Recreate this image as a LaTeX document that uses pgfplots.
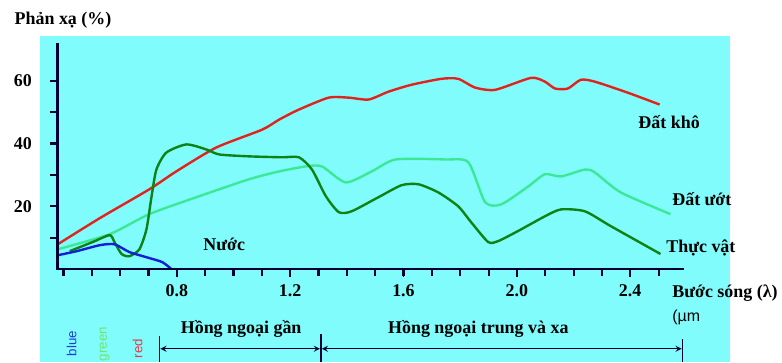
\documentclass[border=0pt]{standalone}
\usepackage{fontspec}
\setmainfont{Liberation Serif}
\setsansfont{Liberation Sans}
\usepackage{pgfplots}
\pgfplotsset{compat=1.18}
\definecolor{bgcyan}{RGB}{128,252,252}
\definecolor{dryred}{RGB}{225,35,30}
\definecolor{wetgreen}{RGB}{60,232,150}
\definecolor{vegreen}{RGB}{15,130,20}
\definecolor{waterblue}{RGB}{20,30,215}
\definecolor{darknavy}{RGB}{0,0,50}
\definecolor{wblue}{RGB}{30,60,220}
\definecolor{wgreen}{RGB}{110,230,110}
\definecolor{wred}{RGB}{230,60,80}
\newcommand{\lf}{\fontsize{13.5}{16}\selectfont\bfseries}
\begin{document}
\begin{tikzpicture}
\fill[bgcyan] (30pt,0pt) rectangle (549.75pt,245.25pt);
\begin{axis}[
  at={(43.5pt,69.75pt)}, anchor=south west,
  scale only axis, width=470.25pt, height=170.25pt,
  xmin=0.38, xmax=2.585, ymin=0, ymax=72.06,
  axis lines=left,
  axis line style={-, draw=darknavy, line width=1.5pt},
  xtick={0.8,1.2,1.6,2.0,2.4},
  xticklabels={0.8,1.2,1.6,2.0,2.4},
  minor xtick={0.4,0.5,0.6,0.7,0.9,1.0,1.1,1.3,1.4,1.5,1.7,1.8,1.9,2.1,2.2,2.3,2.5},
  ytick={20,40,60}, yticklabels={20,40,60},
  minor ytick={10,30,50},
  tick align=outside,
  major tick length=6pt, minor tick length=5pt,
  tick style={draw=darknavy, line width=1.2pt},
  ticklabel style={font=\lf, text=black},
  xticklabel style={yshift=-2pt},
  yticklabel style={xshift=-10pt},
  clip=false,
]
\addplot[dryred, line width=1.8pt, smooth, tension=0.4] coordinates {
(0.38,7.9) (0.528,16.2) (0.703,25.4) (0.798,31.1) (0.939,38.7) (1.101,44.4)
(1.161,47.6) (1.231,50.8) (1.336,54.6) (1.407,54.6) (1.477,54.0) (1.547,56.5)
(1.628,58.7) (1.734,60.6) (1.793,60.6) (1.853,57.8) (1.924,57.1) (2.050,60.9)
(2.099,59.7) (2.135,57.5) (2.180,57.5) (2.226,60.3) (2.275,59.7) (2.391,56.2)
(2.504,52.4)};
\addplot[wetgreen, line width=1.8pt, smooth, tension=0.4] coordinates {
(0.38,6.3) (0.563,11.1) (0.703,17.5) (0.879,23.2) (1.055,28.6) (1.161,31.1)
(1.256,32.7) (1.312,32.7) (1.396,27.6) (1.488,31.1) (1.572,34.9) (1.748,34.9)
(1.829,34.0) (1.888,21.3) (1.945,20.6) (2.040,26.3) (2.099,30.2) (2.156,29.5)
(2.240,31.7) (2.275,30.8) (2.367,24.4) (2.542,17.5)};
\addplot[vegreen, line width=1.8pt, smooth, tension=0.4] coordinates {
(0.422,5.7) (0.503,8.6) (0.563,10.8) (0.580,8.6) (0.605,4.8) (0.633,4.1)
(0.668,6.3) (0.693,12.7) (0.711,23.2) (0.728,31.7) (0.763,37.1) (0.834,39.7)
(0.904,38.1) (0.950,36.5) (1.055,35.9) (1.171,35.6) (1.231,35.6) (1.277,31.7)
(1.326,23.2) (1.372,18.1) (1.417,18.4) (1.512,22.9) (1.593,26.7) (1.653,27.0)
(1.723,24.4) (1.793,20.0) (1.839,14.9) (1.899,8.6) (1.934,8.9) (2.004,12.1)
(2.099,16.8) (2.156,19.0) (2.240,18.4) (2.331,13.7) (2.507,4.8)};
\addplot[waterblue, line width=1.8pt, smooth, tension=0.4] coordinates {
(0.38,4.4) (0.447,5.7) (0.528,7.6) (0.580,7.9) (0.633,5.4) (0.703,3.5)
(0.749,2.2) (0.781,0)};
\end{axis}
\begin{scope}[x=0.75pt,y=0.75pt]
\draw[darknavy, line width=2pt] (58,320) -- (58,93) -- (686,93);
\foreach \v in {10,20,30,40,50,60} {
  \draw[darknavy, line width=1.6pt] (50,{93+3.15*\v}) -- (58,{93+3.15*\v});
}
\foreach \v in {0.4,0.5,0.6,0.7,0.8,0.9,1.0,1.1,1.2,1.3,1.4,1.5,1.6,1.7,1.8,1.9,2.0,2.1,2.2,2.3,2.4,2.5} {
  \draw[darknavy, line width=1.6pt] ({58+(\v-0.38)*284.4},93) -- ({58+(\v-0.38)*284.4},86);
}
\node[font=\lf, anchor=west] at (10,343) {Phản xạ (\%)};
\node[font=\lf] at (225,118) {Nước};
\node[font=\lf, anchor=west] at (636,241) {Đất khô};
\node[font=\lf, anchor=west] at (670,163) {Đất ướt};
\node[font=\lf, anchor=west] at (664,114) {Thực vật};
\node[font=\lf, anchor=west] at (670,69) {Bước sóng (λ)};
\node[font=\sffamily\fontsize{12}{14}\selectfont, anchor=west] at (670,45) {(µm};
\node[font=\lf] at (242,33) {Hồng ngoại gần};
\node[font=\lf] at (480,33) {Hồng ngoại trung và xa};
\node[font=\sffamily\fontsize{10}{12}\selectfont, text=wblue, rotate=90, anchor=east, inner sep=0pt] at (72,31) {blue};
\node[font=\sffamily\fontsize{10}{12}\selectfont, text=wgreen, rotate=90, anchor=east, inner sep=0pt] at (105,35) {green};
\node[font=\sffamily\fontsize{10}{12}\selectfont, text=wred, rotate=90, anchor=east, inner sep=0pt] at (138,23) {red};
\draw[line width=1pt, darknavy] (160,0) -- (160,26);
\draw[line width=1pt, darknavy] (322,0) -- (322,28);
\draw[line width=1pt, darknavy] (685,0) -- (685,23);
\draw[line width=1pt, darknavy, >=stealth, <->] (161,13) -- (321,13);
\draw[line width=1pt, darknavy, >=stealth, <->] (323,13) -- (684,13);
\path (0,0) (782,363);
\end{scope}
\end{tikzpicture}
\end{document}
